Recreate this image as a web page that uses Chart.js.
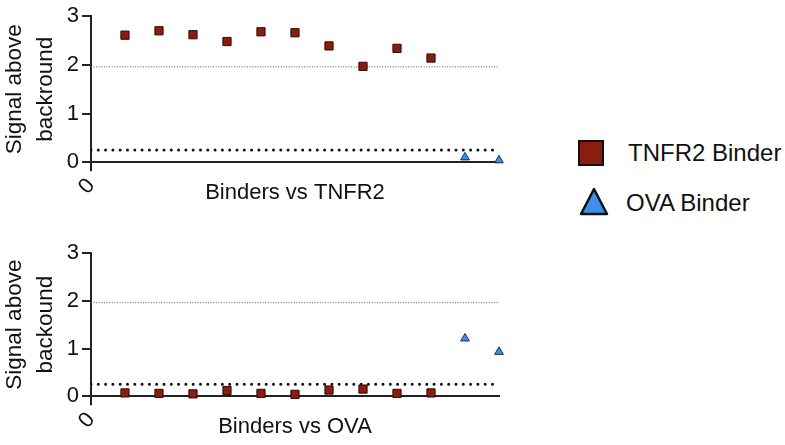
<!DOCTYPE html>
<html lang="en">
<head>
  <meta charset="UTF-8">
  <title>Binder signal above background</title>
  <script src="https://cdn.jsdelivr.net/npm/chart.js"></script>
  <style>
    body {
      margin: 0;
      width: 785px;
      height: 445px;
      overflow: hidden;
      position: relative;
      background: #fff;
      font-family: 'Liberation Sans', Arial, sans-serif;
    }
    canvas { position: absolute; left: 0; }
    #tnfr2Chart { top: 0; }
    #ovaChart { top: 234px; }
    .legend-text {
      position: absolute;
      font-size: 24px;
      line-height: 24px;
      color: #111;
      white-space: nowrap;
    }
    .legend-mark { position: absolute; }
  </style>
</head>
<body>
  <canvas id="tnfr2Chart" width="520" height="212"></canvas>
  <canvas id="ovaChart" width="520" height="212"></canvas>

  <svg class="legend-mark" style="left:578px;top:140px" width="26" height="26">
    <rect x="1" y="1" width="24" height="24" fill="#8a1c10" stroke="#111" stroke-width="2"/>
  </svg>
  <div class="legend-text" style="left:628px;top:141px">TNFR2 Binder</div>
  <svg class="legend-mark" style="left:579px;top:187px" width="30" height="30">
    <polygon points="15,2 28,27 2,27" fill="#3f8fe8" stroke="#111" stroke-width="2.5" stroke-linejoin="round"/>
  </svg>
  <div class="legend-text" style="left:626px;top:191px">OVA Binder</div>

  <script>
    // binders 1-10 are TNFR2 binders, 11-12 are OVA binders
    const tnfr2BinderIds = [1, 2, 3, 4, 5, 6, 7, 8, 9, 10];
    const ovaBinderIds = [11, 12];

    // signal above background, plate coated with TNFR2
    const tnfr2BindersOnTnfr2 = [2.61, 2.70, 2.62, 2.48, 2.68, 2.66, 2.39, 1.97, 2.34, 2.14];
    const ovaBindersOnTnfr2 = [0.10, 0.04];

    // signal above background, plate coated with OVA
    const tnfr2BindersOnOva = [0.07, 0.06, 0.05, 0.12, 0.06, 0.04, 0.13, 0.15, 0.06, 0.07];
    const ovaBindersOnOva = [1.21, 0.93];

    const upperCutoff = 1.96;
    const lowerCutoff = 0.25;
    const yTickValues = [0, 1, 2, 3];
    const xTickValues = [0];
    const xMax = 12;

    const fontFamily = "'Liberation Sans', Arial, sans-serif";
    const ink = '#111';
    const axisColor = '#222';

    function pairs(ids, values) {
      return ids.map((id, i) => ({ x: id, y: values[i] }));
    }

    function makeChart(canvasId, xTitle, yTitle, tnfr2Values, ovaValues, padTop) {
      const ctx = document.getElementById(canvasId).getContext('2d');
      return new Chart(ctx, {
        type: 'scatter',
        data: {
          datasets: [
            {
              label: 'TNFR2 Binder',
              data: pairs(tnfr2BinderIds, tnfr2Values),
              pointStyle: 'rect',
              pointRadius: 5.8,
              backgroundColor: '#8a1c10',
              borderColor: '#2b0b06',
              borderWidth: 1,
              clip: false
            },
            {
              label: 'OVA Binder',
              data: pairs(ovaBinderIds, ovaValues),
              pointStyle: 'triangle',
              pointRadius: 5,
              backgroundColor: '#3f8fe8',
              borderColor: '#15304f',
              borderWidth: 1,
              clip: false
            },
            {
              label: 'upper cutoff',
              data: [{ x: 0, y: upperCutoff }, { x: xMax, y: upperCutoff }],
              showLine: true,
              pointRadius: 0,
              borderColor: '#555',
              borderWidth: 1,
              borderDash: [1, 1.6]
            },
            {
              label: 'lower cutoff',
              data: [{ x: 0, y: lowerCutoff }, { x: xMax, y: lowerCutoff }],
              showLine: true,
              pointRadius: 0,
              borderColor: ink,
              borderWidth: 3,
              borderDash: [0, 7.3],
              borderCapStyle: 'round'
            }
          ]
        },
        options: {
          responsive: false,
          animation: false,
          events: [],
          layout: { padding: { left: 0, top: padTop, right: 21, bottom: 0 } },
          plugins: {
            legend: { display: false },
            tooltip: { enabled: false }
          },
          scales: {
            x: {
              type: 'linear',
              min: 0,
              max: xMax,
              afterBuildTicks: scale => { scale.ticks = xTickValues.map(v => ({ value: v })); },
              ticks: {
                minRotation: 50,
                maxRotation: 50,
                padding: 2,
                color: ink,
                font: { size: 22, family: fontFamily }
              },
              grid: { drawOnChartArea: false, tickLength: 9, color: axisColor, lineWidth: 2 },
              border: { color: axisColor, width: 2 },
              title: {
                display: true,
                text: xTitle,
                color: ink,
                font: { size: 22, family: fontFamily },
                padding: { top: -22, bottom: 6 }
              }
            },
            y: {
              min: 0,
              max: 3,
              afterBuildTicks: scale => { scale.ticks = yTickValues.map(v => ({ value: v })); },
              ticks: {
                padding: 3,
                color: ink,
                font: { size: 22, family: fontFamily }
              },
              grid: { drawOnChartArea: false, tickLength: 9, color: axisColor, lineWidth: 2 },
              border: { color: axisColor, width: 2 },
              title: {
                display: true,
                text: ['Signal above', yTitle],
                color: ink,
                font: { size: 22.5, family: fontFamily, lineHeight: 1.35 },
                padding: { top: 0, bottom: 3 }
              }
            }
          }
        }
      });
    }

    makeChart('tnfr2Chart', 'Binders vs TNFR2', 'backround', tnfr2BindersOnTnfr2, ovaBindersOnTnfr2, 4);
    makeChart('ovaChart', 'Binders vs OVA', 'backound', tnfr2BindersOnOva, ovaBindersOnOva, 19);
  </script>
</body>
</html>
